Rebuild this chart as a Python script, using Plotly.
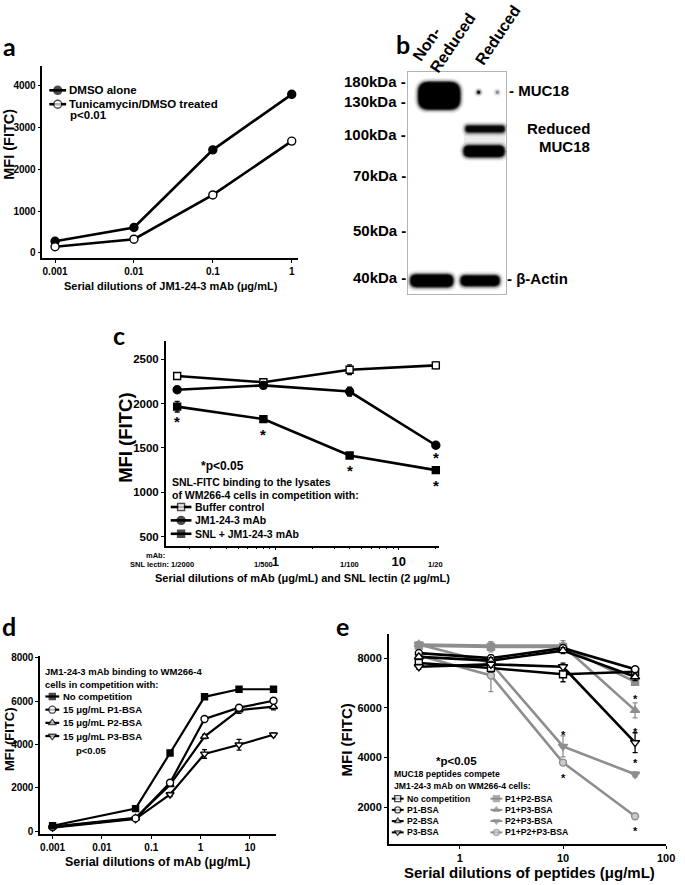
import math
import plotly.graph_objects as go

W, H = 685, 885
SANS = "Liberation Sans"
LETTER = "Lato"
GRAY = "#8e8e8e"
LGRAY = "#c9c9c9"

# ---------------- data ----------------
# (a) tunicamycin
a_dose = [0.001, 0.01, 0.1, 1]
a_dose_labels = ["0.001", "0.01", "0.1", "1"]
a_dmso = [280, 610, 2470, 3800]
a_tunicamycin = [150, 330, 1390, 2680]
a_names = ["DMSO alone", "Tunicamycin/DMSO treated"]

# (b) western blot (migration units from top of membrane)
b_lanes = ["Non-<br>Reduced", "Reduced"]
b_mw_labels = ["180kDa", "130kDa", "100kDa", "70kDa", "50kDa", "40kDa"]
b_mw_migration = [11, 31, 65, 106, 161, 209]
b_band_x0 = [11, 59, 57, 3, 54]
b_band_x1 = [53, 98, 98, 46, 93]
b_band_y0 = [10, 54, 74, 204, 205]
b_band_y1 = [37, 60, 85, 216, 215]
b_band_density = [1.0, 0.85, 1.0, 1.0, 1.0]
b_spot_x = [72, 91]
b_spot_y = [20, 20]
b_spot_density = [0.85, 0.35]

# (c) SNL competition
c_mab_dose = [0.16, 0.8, 4, 20]
c_snl_dilution = ["1/2000", "1/500", "1/100", "1/20"]
c_buffer = [2310, 2240, 2380, 2430]
c_buffer_err = [15, 30, 55, 35]
c_mab = [2155, 2205, 2135, 1530]
c_mab_err = [15, 15, 50, 15]
c_snl = [1965, 1825, 1415, 1250]
c_snl_err = [60, 15, 15, 15]
c_star_snl = [1, 1, 1, 1]
c_star_mab = [0, 0, 0, 1]
c_names = ["Buffer control", "JM1-24-3 mAb", "SNL + JM1-24-3 mAb"]

# (d) peptide-BSA competition vs mAb dose
d_dose = [0.001, 0.048, 0.24, 1.2, 6, 30]
d_dose_ticks = [0.001, 0.01, 0.1, 1, 10]
d_dose_labels = ["0.001", "0.01", "0.1", "1", "10"]
d_nocomp = [260, 1050, 3610, 6200, 6550, 6550]
d_p1 = [200, 600, 2240, 5180, 5700, 6020]
d_p1_err = [30, 50, 80, 90, 80, 80]
d_p2 = [220, 620, 2150, 4370, 5590, 5745]
d_p2_err = [30, 50, 80, 100, 150, 150]
d_p3 = [170, 570, 1700, 3570, 3990, 4450]
d_p3_err = [30, 50, 100, 200, 250, 80]
d_names = ["No competition", "15 \u03bcg/mL P1-BSA", "15 \u03bcg/mL P2-BSA", "15 \u03bcg/mL P3-BSA"]

# (e) peptide dilutions
e_conc = [0.4, 2, 10, 50]
e_nocomp = [7800, 7600, 7350, 7450]
e_nocomp_err = [120, 150, 300, 120]
e_p1 = [8200, 8000, 8400, 7550]
e_p1_err = [100, 120, 120, 100]
e_p2 = [8050, 7900, 8300, 7250]
e_p2_err = [100, 120, 120, 150]
e_p3 = [7650, 7750, 7650, 4600]
e_p3_err = [100, 120, 150, 400]
e_p12 = [8500, 8450, 8450, 7050]
e_p12_err = [100, 200, 150, 100]
e_p13 = [8550, 8500, 8500, 5900]
e_p13_err = [100, 150, 200, 300]
e_p23 = [8550, 7800, 4450, 3330]
e_p23_err = [100, 150, 420, 100]
e_p123 = [8100, 7300, 3800, 1640]
e_p123_err = [100, 650, 100, 100]
e_names_black = ["No competition", "P1-BSA", "P2-BSA", "P3-BSA"]
e_names_gray = ["P1+P2-BSA", "P1+P3-BSA", "P2+P3-BSA", "P1+P2+P3-BSA"]
e_star_series = ["P2+P3-BSA", "P1+P2+P3-BSA", "P1+P3-BSA", "P3-BSA", "P2+P3-BSA", "P1+P2+P3-BSA"]
e_star_index = [2, 2, 3, 3, 3, 3]
e_star_side = [1, -1, 1, 1, 1, -1]

# ---------------- helpers ----------------
fig = go.Figure()
ann = []
shapes = []


def px(x):
    return x / W


def py(y):
    return 1 - y / H


def xdom(a, b):
    return [a / W, b / W]


def ydom(top, bottom):
    return [1 - bottom / H, 1 - top / H]


def note(x, y, text, size, xanchor="left", angle=0, font=SANS, bold=True, align="left", color="black"):
    ann.append(dict(x=px(x), y=py(y), xref="paper", yref="paper", text=text, showarrow=False,
                    xanchor=xanchor, yanchor="middle", textangle=angle, align=align,
                    borderpad=0,
                    font=dict(family=font, size=size, color=color, weight="bold" if bold else "normal")))


def series(xa, ya, x, y, style, err=None):
    sym, mcol, lcol, mline, size, lw = style
    tr = go.Scatter(x=x, y=y, xaxis=xa, yaxis=ya, mode="lines+markers",
                    line=dict(color=lcol, width=lw),
                    marker=dict(symbol=sym, color=mcol, size=size, line=dict(color=mline, width=1.4)),
                    cliponaxis=False, hoverinfo="skip")
    if err is not None:
        tr.update(error_y=dict(type="data", array=err, color=lcol, thickness=1.3, width=2.5))
    fig.add_trace(tr)


def key(x0, x1, y, style):
    sym, mcol, lcol, mline, size, lw = style
    fig.add_trace(go.Scatter(x=[x0, (x0 + x1) / 2, x1], y=[y, y, y], xaxis="x5", yaxis="y5",
                             mode="lines+markers", line=dict(color=lcol, width=lw),
                             marker=dict(symbol=sym, color=mcol, size=[0, size, 0],
                                         line=dict(color=mline, width=[0, 1.4, 0])),
                             cliponaxis=False, hoverinfo="skip"))


def star(xa, ya, x, y, side, size, shift):
    # annotation positions on log axes are given in log10 units
    ann.append(dict(x=math.log10(x), y=y, xref=xa, yref=ya, text="*", showarrow=False,
                    xanchor="center", yanchor="middle", yshift=shift if side > 0 else -shift - 4,
                    borderpad=0,
                    font=dict(family=SANS, size=size, color="black", weight="bold")))


def ax_style(**kw):
    d = dict(showline=True, linecolor="black", linewidth=1.5, ticks="outside", ticklen=3,
             tickwidth=1.3, tickcolor="black", showgrid=False, zeroline=False,
             tickfont=dict(family=SANS, size=10, color="black", weight="bold"), fixedrange=True)
    d.update(kw)
    return d


# ---------------- panel a ----------------
st_a_dmso = ("circle", "black", "black", "black", 8, 2.6)
st_a_tun = ("circle", "white", "black", "black", 8, 2.6)
series("x", "y", a_dose, a_dmso, st_a_dmso)
series("x", "y", a_dose, a_tunicamycin, st_a_tun)
key(50, 67, 87, st_a_dmso)
key(50, 67, 101, st_a_tun)
note(69, 87, a_names[0], 11.5)
note(69, 101, a_names[1], 11.5)
note(70, 112, "p<0.01", 11.5)
note(173, 284, "Serial dilutions of JM1-24-3 mAb (\u03bcg/mL)", 11, xanchor="center")
note(9, 141, "MFI (FITC)", 14.5, xanchor="center", angle=-90)
note(2, 42, "a", 25, font=LETTER)

# ---------------- panel b (blot) ----------------
def rrect(x0, y0, x1, y1, r):
    return (f"M{x0 + r},{y0} L{x1 - r},{y0} Q{x1},{y0} {x1},{y0 + r} L{x1},{y1 - r} "
            f"Q{x1},{y1} {x1 - r},{y1} L{x0 + r},{y1} Q{x0},{y1} {x0},{y1 - r} "
            f"L{x0},{y0 + r} Q{x0},{y0} {x0 + r},{y0} Z")


for x0, x1, y0, y1, dens in zip(b_band_x0, b_band_x1, b_band_y0, b_band_y1, b_band_density):
    for grow, op in [(4.5, 0.07), (3.2, 0.12), (2.2, 0.2), (1.3, 0.35), (0.5, 0.6), (-0.5, dens)]:
        r = max(min((y1 - y0) / 2, (x1 - x0) / 4) + grow, 0.5)
        shapes.append(dict(type="path", xref="x6", yref="y6",
                           path=rrect(x0 - grow, y0 - grow, x1 + grow, y1 + grow, r),
                           fillcolor="black", opacity=op, line=dict(width=0), layer="above"))
shapes.append(dict(type="rect", xref="x6", yref="y6", x0=57, x1=99, y0=61, y1=73,
                   fillcolor="black", opacity=0.07, line=dict(width=0)))
for sx, sy, dens in zip(b_spot_x, b_spot_y, b_spot_density):
    for rad, op in [(4.5, 0.12 * dens), (3, 0.3 * dens), (1.8, dens)]:
        shapes.append(dict(type="circle", xref="x6", yref="y6", x0=sx - rad, x1=sx + rad,
                           y0=sy - rad, y1=sy + rad, fillcolor="black", opacity=op,
                           line=dict(width=0)))

for lab, mig in zip(b_mw_labels, b_mw_migration):
    ann.append(dict(x=0, y=mig, xref="x6", yref="y6", text=lab + " -", showarrow=False,
                    xanchor="right", yanchor="middle", xshift=-1, yshift=2, borderpad=0,
                    font=dict(family=SANS, size=15, color="black", weight="bold")))
ann.append(dict(x=100, y=20, xref="x6", yref="y6", text="- MUC18", showarrow=False,
                xanchor="left", yanchor="middle", xshift=2, yshift=2, borderpad=0,
                font=dict(family=SANS, size=15, color="black", weight="bold")))
ann.append(dict(x=100, y=209, xref="x6", yref="y6", text="- \u03b2-Actin", showarrow=False,
                xanchor="left", yanchor="middle", xshift=0, yshift=1, borderpad=0,
                font=dict(family=SANS, size=15, color="black", weight="bold")))
shapes.append(dict(type="path", xref="x6", yref="y6",
                   path="M100,54 L104,54 L104,80 L100,80", line=dict(color="black", width=1.5)))
ann.append(dict(x=104, y=66, xref="x6", yref="y6", text="-", showarrow=False,
                xanchor="left", yanchor="middle", xshift=3, borderpad=0,
                font=dict(family=SANS, size=15, color="black", weight="bold")))
note(533, 125, "Reduced", 15)
note(545, 144, "MUC18", 15)
note(450, 33, b_lanes[0], 16, xanchor="center", angle=-56, align="left")
note(505, 31, b_lanes[1], 16, xanchor="center", angle=-56)
note(400, 40, "b", 25, font=LETTER)

# ---------------- panel c ----------------
st_c_buf = ("square", "white", "black", "black", 7, 2.6)
st_c_mab = ("circle", "black", "black", "black", 8, 2.6)
st_c_snl = ("square", "black", "black", "black", 7, 2.6)
series("x2", "y2", c_mab_dose, c_buffer, st_c_buf, c_buffer_err)
series("x2", "y2", c_mab_dose, c_mab, st_c_mab, c_mab_err)
series("x2", "y2", c_mab_dose, c_snl, st_c_snl, c_snl_err)
for xv, yv, s in zip(c_mab_dose, c_snl, c_star_snl):
    if s:
        star("x2", "y2", xv, yv, -1, 15, 11)
for xv, yv, s in zip(c_mab_dose, c_mab, c_star_mab):
    if s:
        star("x2", "y2", xv, yv, -1, 15, 8)
for i, (nm, st) in enumerate(zip(c_names, [st_c_buf, st_c_mab, st_c_snl])):
    key(173, 194, 507 + 13.5 * i, st)
    note(197, 507 + 13.5 * i, nm, 10.5)
note(203, 466, "*p<0.05", 12)
note(173, 482, "SNL-FITC binding to the lysates", 10.5)
note(173, 494.5, "of WM266-4 cells in competition with:", 10.5)
note(158, 556, "mAb:", 7.5, xanchor="center")
for xv, lab in zip(c_mab_dose, c_snl_dilution):
    first = lab == c_snl_dilution[0]
    ann.append(dict(x=math.log10(xv), y=py(565), xref="x2", yref="paper",
                    text=("SNL lectin: " + lab) if first else lab, showarrow=False,
                    xanchor="right" if first else "center", xshift=18 if first else 0,
                    yanchor="middle", borderpad=0,
                    font=dict(family=SANS, size=7.5, color="black", weight="bold")))
note(307, 579, "Serial dilutions of mAb (\u03bcg/mL) and SNL lectin (2 \u03bcg/mL)", 11, xanchor="center")
note(127, 437, "MFI (FITC)", 18.5, xanchor="center", angle=-90)
note(113, 334, "c", 25, font=LETTER)

# ---------------- panel d ----------------
st_d0 = ("square", "black", "black", "black", 6, 2.2)
st_d1 = ("circle", "white", "black", "black", 7, 2.2)
st_d2 = ("triangle-up", "white", "black", "black", 7, 2.2)
st_d3 = ("triangle-down", "white", "black", "black", 7, 2.2)
series("x3", "y3", d_dose, d_p3, st_d3, d_p3_err)
series("x3", "y3", d_dose, d_p2, st_d2, d_p2_err)
series("x3", "y3", d_dose, d_p1, st_d1, d_p1_err)
series("x3", "y3", d_dose, d_nocomp, st_d0)
for i, (nm, st) in enumerate(zip(d_names, [st_d0, st_d1, st_d2, st_d3])):
    key(46, 60, 698 + 13.3 * i, st)
    note(63, 698 + 13.3 * i, nm, 9.5)
note(45, 673, "JM1-24-3 mAb binding to WM266-4", 9.5)
note(45, 685.5, "cells in competition with:", 9.5)
note(93, 752, "p<0.05", 9.5, xanchor="center")
note(160, 865, "Serial dilutions of mAb (\u03bcg/mL)", 12.5, xanchor="center")
note(9, 741, "MFI (FITC)", 13, xanchor="center", angle=-90)
note(1, 627, "d", 25, font=LETTER)

# ---------------- panel e ----------------
e_black = [e_nocomp, e_p1, e_p2, e_p3]
e_black_err = [e_nocomp_err, e_p1_err, e_p2_err, e_p3_err]
e_gray = [e_p12, e_p13, e_p23, e_p123]
e_gray_err = [e_p12_err, e_p13_err, e_p23_err, e_p123_err]
st_eb = [("square", "white", "black", "black", 7, 2.6),
         ("circle", "white", "black", "black", 7, 2.6),
         ("triangle-up", "white", "black", "black", 8, 2.6),
         ("triangle-down", "white", "black", "black", 8, 2.6)]
st_eg = [("square", GRAY, GRAY, GRAY, 7, 2.6),
         ("triangle-up", GRAY, GRAY, GRAY, 8, 2.6),
         ("triangle-down", GRAY, GRAY, GRAY, 8, 2.6),
         ("circle", LGRAY, GRAY, GRAY, 7, 2.6)]
for yv, er, st in zip(e_gray, e_gray_err, st_eg):
    series("x4", "y4", e_conc, yv, st, er)
for yv, er, st in zip(e_black, e_black_err, st_eb):
    series("x4", "y4", e_conc, yv, st, er)
all_e = dict(zip(e_names_black + e_names_gray, e_black + e_gray))
for nm, idx, side in zip(e_star_series, e_star_index, e_star_side):
    star("x4", "y4", e_conc[idx], all_e[nm][idx], side, 11, 11)
rows_e = [801, 812.3, 823.6, 835]
for i in range(4):
    key(397, 409, rows_e[i], st_eb[i][:4] + (6, 2.0))
    note(411, rows_e[i], e_names_black[i], 8.7)
    key(497, 509, rows_e[i], st_eg[i][:4] + (6, 2.0))
    note(511, rows_e[i], e_names_gray[i], 8.7)
note(463, 763, "*p<0.05", 11.5, xanchor="center")
note(398, 776, "MUC18 peptides compete", 8.7)
note(398, 788, "JM1-24-3 mAb on WM266-4 cells:", 8.7)
note(537, 875, "Serial dilutions of peptides (\u03bcg/mL)", 15, xanchor="center")
note(351, 742, "MFI (FITC)", 15, xanchor="center", angle=-90)
note(339, 627, "e", 25, font=LETTER)

# ---------------- layout ----------------
lay = dict(
    width=W, height=H, autosize=False, margin=dict(l=0, r=0, t=0, b=0, pad=0),
    paper_bgcolor="white", plot_bgcolor="rgba(0,0,0,0)", showlegend=False,
    xaxis=ax_style(domain=xdom(43, 302), anchor="y", type="log", range=[-3.16, 0.08],
                   tickvals=a_dose, ticktext=a_dose_labels),
    yaxis=ax_style(domain=ydom(62, 256), anchor="x", range=[-120, 4490],
                   tickvals=[0, 1000, 2000, 3000, 4000]),
    xaxis2=ax_style(domain=xdom(168, 445), anchor="y2", type="log", range=[-0.888, 1.328],
                    tickvals=[1, 10], ticktext=["1", "10"],
                    tickfont=dict(family=SANS, size=13, color="black", weight="bold"),
                    minor=dict(ticks="outside", ticklen=2, tickwidth=1, tickcolor="black",
                               tickmode="array",
                               tickvals=[0.2, 0.3, 0.4, 0.5, 0.6, 0.7, 0.8, 0.9,
                                         2, 3, 4, 5, 6, 7, 8, 9, 20])),
    yaxis2=ax_style(domain=ydom(340, 546), anchor="x2", range=[399, 2701],
                    tickvals=[500, 1000, 1500, 2000, 2500],
                    tickfont=dict(family=SANS, size=11.5, color="black", weight="bold")),
    xaxis3=ax_style(domain=xdom(40.7, 280), anchor="y3", type="log", range=[-3.252, 1.534],
                    tickvals=d_dose_ticks, ticktext=d_dose_labels),
    yaxis3=ax_style(domain=ydom(657, 837), anchor="x3", range=[-137, 8090],
                    tickvals=[0, 2000, 4000, 6000, 8000]),
    xaxis4=ax_style(domain=xdom(394, 675), anchor="y4", type="log", range=[-0.689, 2.0],
                    tickvals=[1, 10, 100], ticktext=["1", "10", "100"],
                    tickfont=dict(family=SANS, size=11, color="black", weight="bold")),
    yaxis4=ax_style(domain=ydom(635, 847), anchor="x4", range=[515, 8970],
                    tickvals=[2000, 4000, 6000, 8000],
                    tickfont=dict(family=SANS, size=11, color="black", weight="bold")),
    xaxis5=dict(domain=[0, 1], anchor="y5", range=[0, W], visible=False, fixedrange=True),
    yaxis5=dict(domain=[0, 1], anchor="x5", range=[H, 0], visible=False, fixedrange=True),
    xaxis6=dict(domain=xdom(413, 513), anchor="y6", range=[0, 100], showline=True, mirror=True,
                linecolor="#b4b4b4", linewidth=1.2, showticklabels=False, ticks="",
                showgrid=False, zeroline=False, fixedrange=True),
    yaxis6=dict(domain=ydom(69, 292), anchor="x6", range=[223, 0], showline=True, mirror=True,
                linecolor="#b4b4b4", linewidth=1.2, showticklabels=False, ticks="",
                showgrid=False, zeroline=False, fixedrange=True),
    annotations=ann, shapes=shapes,
)
fig.update_layout(**lay)
fig.write_html("out.html", config={"displayModeBar": False},
               post_script="document.body.style.margin='0';document.body.style.overflow='hidden';")
